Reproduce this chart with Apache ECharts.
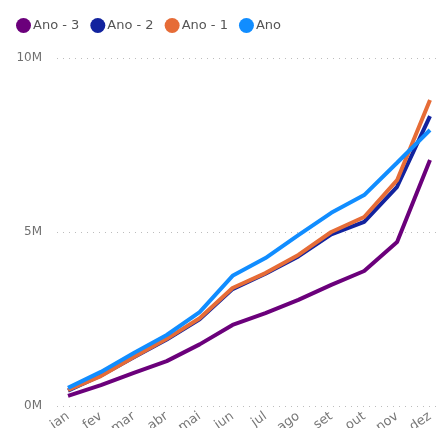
<!DOCTYPE html>
<html>
<head>
<meta charset="utf-8">
<script src="https://cdn.jsdelivr.net/npm/echarts@6/dist/echarts.min.js"></script>
<style>html,body{margin:0;padding:0;background:#fff}#c{width:442px;height:428px}</style>
</head>
<body>
<div id="c"></div>
<script>
const categories = ['jan','fev','mar','abr','mai','jun','jul','ago','set','out','nov','dez'];
const seriesNames = ['Ano - 3','Ano - 2','Ano - 1','Ano'];
const ano3 = [0.29,0.60,0.95,1.29,1.77,2.33,2.67,3.05,3.48,3.88,4.71,7.07];
const ano2 = [0.44,0.88,1.40,1.91,2.49,3.36,3.80,4.30,4.93,5.29,6.30,8.33];
const ano1 = [0.46,0.86,1.41,1.93,2.52,3.39,3.82,4.34,5.00,5.43,6.49,8.79];
const ano  = [0.52,0.98,1.52,2.04,2.70,3.74,4.25,4.91,5.55,6.06,6.99,7.93];
const yTicks = [0,5,10];
const colors = ['#6B007B','#12239E','#E66C37','#118DFF'];
const values = [ano3, ano2, ano1, ano];

const chart = echarts.init(document.getElementById('c'));
const font = 'DejaVu Sans';
chart.setOption({
  animation:false,
  color: colors,
  legend:{
    left: 11, top: 13, itemWidth: 15, itemHeight: 15, itemGap: 11,
    icon:'circle',
    textStyle:{color:'#555', fontSize:13, fontFamily:font, padding:[0,0,0,-3]},
    data: seriesNames
  },
  grid:[
    {left:57, right:2, top:58, bottom:22, containLabel:false, outerBoundsMode:'none'},
    {left:68, right:12, top:58, bottom:22, containLabel:false, outerBoundsMode:'none'}
  ],
  xAxis:[
    {gridIndex:0, type:'value', show:false, min:0, max:1},
    {gridIndex:1, type:'category', data:categories, boundaryGap:false,
     axisLine:{show:false}, axisTick:{show:false},
     axisLabel:{rotate:35, color:'#777', fontSize:13, fontFamily:font, margin:9}}
  ],
  yAxis:[
    {gridIndex:0, type:'value', min:0, max:10, interval:5,
     axisLine:{show:false}, axisTick:{show:false},
     axisLabel:{color:'#707070', fontSize:12, fontFamily:font, margin:15,
       formatter: v => yTicks.includes(v) ? v + 'M' : ''},
     splitLine:{lineStyle:{color:'#bdbdbd', type:[1,5], width:1}}},
    {gridIndex:1, type:'value', min:0, max:10, show:false, splitLine:{show:false}}
  ],
  series: seriesNames.map((n,i)=>({
    name:n, type:'line', xAxisIndex:1, yAxisIndex:1,
    data: values[i], symbol:'none', lineStyle:{width:4, color:colors[i]},
    itemStyle:{color:colors[i]}, z: 2+i
  }))
});
</script>
</body>
</html>
